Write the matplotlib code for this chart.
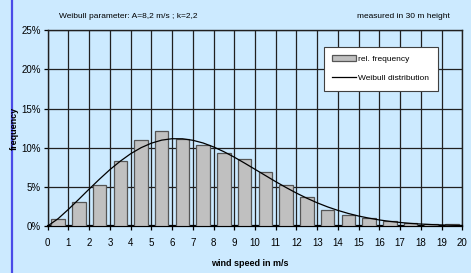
import matplotlib.pyplot as plt
from matplotlib.ticker import FuncFormatter

plt.rcParams['font.family'] = ['Liberation Sans', 'DejaVu Sans']

# relative frequency per 1 m/s bin (in %)
bins = list(range(20))
rel_freq = [0.9, 3.1, 5.25, 8.25, 10.95, 12.1, 11.05, 10.4, 9.3, 8.55,
            6.85, 5.3, 3.65, 2.1, 1.4, 1.0, 0.65, 0.4, 0.2, 0.2]

# weibull curve (in %)
wb_speed = [0, 0.5, 1, 1.5, 2, 2.5, 3, 3.5, 4, 4.5, 5, 5.5, 6, 6.5, 7, 7.5,
            8, 8.5, 9, 9.5, 10, 10.5, 11, 11.5, 12, 12.5, 13, 13.5, 14, 14.5,
            15, 15.5, 16, 16.5, 17, 17.5, 18, 18.5, 19, 19.5, 20]
wb_freq = [0, 0.93, 2.13, 3.41, 4.72, 5.99, 7.2, 8.28, 9.23, 10.0, 10.58,
           10.97, 11.15, 11.14, 10.95, 10.6, 10.1, 9.49, 8.79, 8.03, 7.24,
           6.45, 5.66, 4.91, 4.2, 3.55, 2.96, 2.44, 1.99, 1.6, 1.27, 1.0,
           0.77, 0.59, 0.45, 0.33, 0.25, 0.18, 0.13, 0.09, 0.06]

bg = '#cceaff'
W, H = 471, 273
fig = plt.figure(figsize=(4.71, 2.73), dpi=100, facecolor=bg)
ax = fig.add_axes([0.1013, 0.1722, 0.8803, 0.7168])
ax.set_facecolor(bg)

# blue line on the left edge
fig.add_artist(plt.Line2D([11.5 / W, 11.5 / W], [0, 1], color='#4a4ae8', lw=1.6))

bars = ax.bar([b + 0.5 for b in bins], rel_freq, width=0.65, color='#c0c0c0',
              edgecolor='#555555', linewidth=0.9, zorder=3)
line, = ax.plot(wb_speed, wb_freq, color='black', lw=0.9, zorder=4)

ax.set_xlim(0, 20)
ax.set_ylim(0, 25)
ax.set_xticks(range(0, 21))
ax.set_yticks(range(0, 26, 5))
ax.yaxis.set_major_formatter(FuncFormatter(lambda v, p: '%d%%' % v))
ax.grid(True, color='#202020', lw=0.9, zorder=1)
ax.set_axisbelow(True)
for s in ax.spines.values():
    s.set_color('#202020')
    s.set_linewidth(1.0)
ax.spines['bottom'].set_color('black')
ax.spines['bottom'].set_linewidth(1.6)
ax.tick_params(axis='both', labelsize=7, length=3, width=0.9, pad=2)
ax.tick_params(axis='x', pad=6)

fig.text(250 / W, 1 - 264 / H, 'wind speed in m/s', fontsize=6.5,
         fontweight='bold', ha='center', va='center')
fig.text(14 / W, 1 - 128 / H, 'frequency', fontsize=6.5, fontweight='bold',
         ha='center', va='center', rotation=90)

fig.text(128 / W, 1 - 17 / H, 'Weibull parameter: A=8,2 m/s ; k=2,2',
         fontsize=6, ha='center', va='center')
fig.text(450 / W, 1 - 17 / H, 'measured in 30 m height',
         fontsize=6, ha='right', va='center')

leg = fig.legend([bars, line], ['rel. frequency', 'Weibull distribution'],
                 loc='upper left', bbox_to_anchor=(324 / W, 1 - 46.5 / H),
                 fontsize=6, frameon=True, fancybox=False, framealpha=1,
                 edgecolor='#404040', handlelength=2.8, borderpad=1.0,
                 labelspacing=1.4, handletextpad=0.3, borderaxespad=0)
leg.get_frame().set_linewidth(0.8)
leg.set_zorder(6)

fig.savefig('out.png', dpi=100, facecolor=bg)
